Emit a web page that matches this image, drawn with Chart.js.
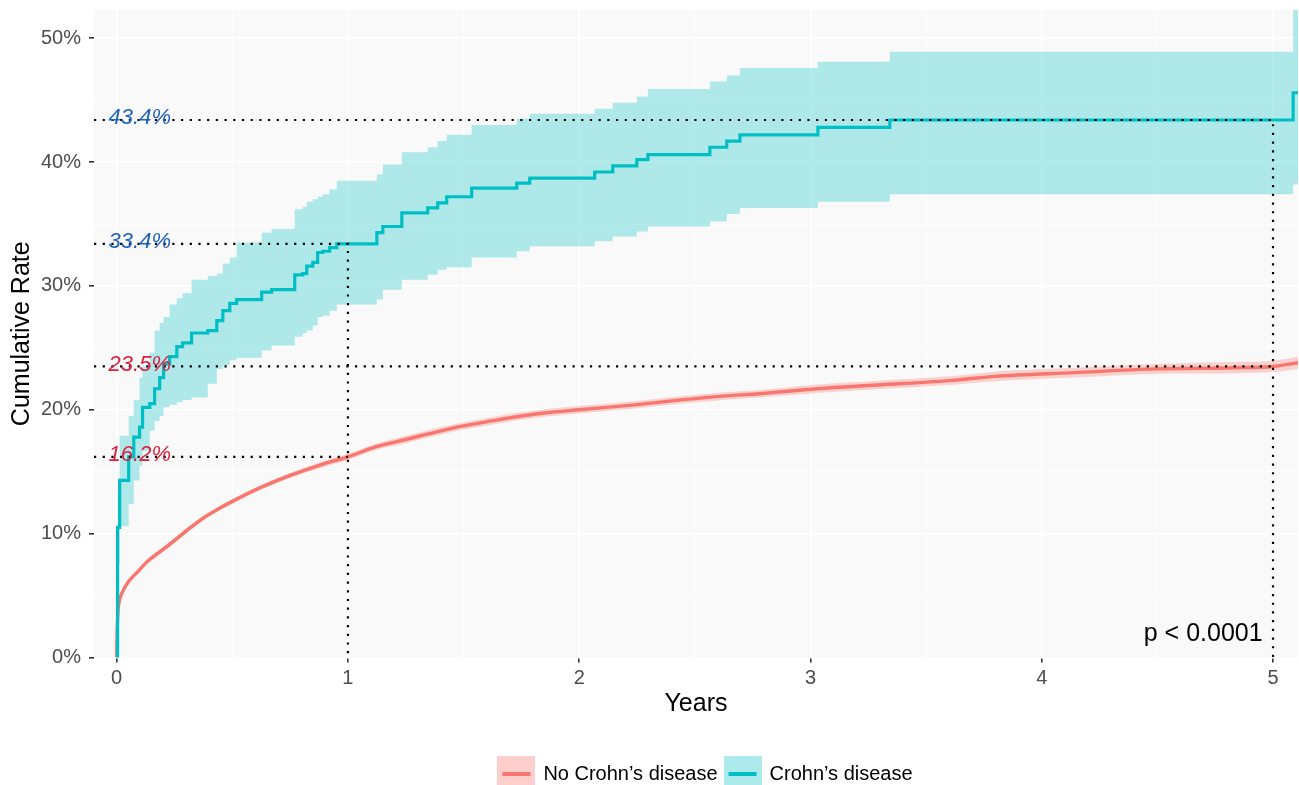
<!DOCTYPE html>
<html><head><meta charset="utf-8">
<script src="https://cdn.jsdelivr.net/npm/chart.js@4.4.1/dist/chart.umd.min.js"></script>
<style>html,body{margin:0;padding:0;background:#fff;overflow:hidden}</style>
</head><body>
<canvas id="c" width="1299" height="785"></canvas>
<script>
// ---------- data ----------
const seriesNames = ['No Crohn\u2019s disease', 'Crohn\u2019s disease'];
const xTickValues = [0, 1, 2, 3, 4, 5];
const xMinorValues = [0.5, 1.5, 2.5, 3.5, 4.5];
const yTickValues = [0, 10, 20, 30, 40, 50];
const yMinorValues = [5, 15, 25, 35, 45];

// Crohn's disease (step curve, cumulative %)
const cdTime  = [0, 0.004, 0.013, 0.052, 0.074, 0.099, 0.112, 0.143, 0.164, 0.186, 0.203, 0.229, 0.260, 0.285, 0.324, 0.394, 0.433, 0.459, 0.489, 0.519, 0.627, 0.670, 0.770, 0.804, 0.822, 0.848, 0.869, 0.891, 0.921, 0.952, 1.125, 1.151, 1.233, 1.345, 1.388, 1.427, 1.535, 1.730, 1.786, 2.067, 2.145, 2.249, 2.297, 2.565, 2.638, 2.695, 3.032, 3.343, 5.087, 5.108];
const cdEst   = [0, 10.5, 14.3, 16.2, 17.8, 18.6, 20.2, 20.5, 21.7, 22.6, 23.7, 24.3, 25.1, 25.4, 26.2, 26.4, 27.2, 28.0, 28.6, 28.9, 29.5, 29.7, 30.9, 31.0, 31.6, 31.9, 32.7, 32.8, 33.1, 33.4, 34.3, 34.8, 35.9, 36.3, 36.7, 37.2, 37.9, 38.3, 38.7, 39.2, 39.7, 40.2, 40.6, 41.2, 41.7, 42.2, 42.8, 43.4, 45.6, 45.6];
const cdLower = [0, 7.5, 10.6, 12.4, 14.3, 15.5, 16.7, 18.3, 19.1, 19.5, 20.2, 20.4, 20.6, 20.8, 21.0, 22.1, 23.3, 23.6, 24.0, 24.2, 24.8, 25.2, 25.9, 26.2, 26.4, 26.8, 27.5, 27.6, 28.0, 28.5, 28.9, 29.7, 30.5, 30.9, 31.3, 31.5, 32.3, 32.8, 33.2, 33.6, 34.0, 34.4, 34.8, 35.2, 35.8, 36.3, 36.8, 37.4, 38.2, 38.2];
const cdUpper = [0, 13.5, 17.9, 19.5, 20.8, 22.6, 23.5, 24.6, 26.4, 27.0, 27.5, 28.5, 29.0, 29.4, 30.5, 30.8, 31.0, 31.8, 32.3, 33.5, 34.3, 34.6, 36.2, 36.4, 36.8, 37.0, 37.2, 37.4, 37.8, 38.5, 39.0, 39.8, 40.8, 41.2, 41.7, 42.2, 43.0, 43.5, 43.9, 44.3, 44.8, 45.3, 45.9, 46.5, 47.0, 47.6, 48.1, 48.9, 56.0, 56.0];

// No Crohn's disease (dense curve, cumulative %)
const noCdTime  = [0, 0.002, 0.006, 0.012, 0.025, 0.05, 0.09, 0.13, 0.17, 0.22, 0.26, 0.32, 0.37, 0.44, 0.51, 0.62, 0.75, 0.89, 1.0, 1.12, 1.25, 1.38, 1.5, 1.62, 1.75, 1.88, 2.0, 2.24, 2.44, 2.62, 2.78, 3.03, 3.29, 3.63, 3.80, 4.14, 4.49, 4.83, 5.0, 5.108];
const noCdEst   = [0, 2.2, 3.8, 4.6, 5.3, 6.1, 6.9, 7.7, 8.3, 9.0, 9.6, 10.5, 11.2, 12.0, 12.7, 13.7, 14.7, 15.6, 16.2, 17.0, 17.6, 18.2, 18.7, 19.1, 19.5, 19.8, 20.0, 20.4, 20.8, 21.1, 21.3, 21.7, 22.0, 22.4, 22.7, 23.0, 23.3, 23.4, 23.5, 23.8];
const noCdLower = [0, 2.1, 3.6, 4.4, 5.1, 5.9, 6.7, 7.5, 8.1, 8.8, 9.4, 10.3, 11.0, 11.8, 12.5, 13.5, 14.5, 15.35, 15.95, 16.75, 17.3, 17.9, 18.4, 18.8, 19.2, 19.5, 19.7, 20.1, 20.5, 20.8, 21.0, 21.35, 21.65, 22.05, 22.3, 22.6, 22.9, 22.95, 23.05, 23.3];
const noCdUpper = [0, 2.3, 4.0, 4.8, 5.5, 6.3, 7.1, 7.9, 8.5, 9.2, 9.8, 10.7, 11.4, 12.2, 12.9, 13.9, 14.9, 15.85, 16.45, 17.25, 17.9, 18.5, 19.0, 19.4, 19.8, 20.1, 20.3, 20.7, 21.1, 21.4, 21.6, 22.05, 22.35, 22.75, 23.1, 23.4, 23.7, 23.85, 23.95, 24.3];

// reference read-offs
const refTimes = [1, 5];
const refCdValues = [33.4, 43.4];
const refNoCdValues = [16.2, 23.5];
const pValueText = 'p < 0.0001';

// ---------- styling ----------
const X_MIN = -0.098, X_MAX = 5.108, Y_MIN = 0, Y_MAX = 52.28;
const TEAL = '#00BFC4', RED = '#F8766D';
const TEAL_BAND = 'rgba(0,191,196,0.30)', RED_BAND = 'rgba(248,118,109,0.30)';
const BLUE_TXT = '#1F63BC', RED_TXT = '#DE1E3E';
const FONT = '"Liberation Sans", Arial, Helvetica, sans-serif';

const pts = (xs, ys) => xs.map((v, i) => ({x: v, y: ys[i]}));

function keyCanvas(lineColor, bandColor) {
  const c = document.createElement('canvas');
  c.width = 38; c.height = 36;
  const g = c.getContext('2d');
  g.fillStyle = '#ffffff'; g.fillRect(0, 0, 38, 36);
  g.fillStyle = bandColor; g.fillRect(0, 0, 38, 36);
  g.strokeStyle = lineColor; g.lineWidth = 4;
  g.beginPath(); g.moveTo(5, 18); g.lineTo(33, 18); g.stroke();
  return c;
}

const datasets = [];
refTimes.forEach((t, i) => {
  datasets.push({label: 'refcd' + i, data: [{x: X_MIN, y: refCdValues[i]}, {x: t, y: refCdValues[i]}, {x: t, y: 0}],
    borderColor: '#000', borderWidth: 2.2, borderDash: [2.2, 6.5], pointRadius: 0, fill: false, order: 0, tension: 0});
  datasets.push({label: 'refno' + i, data: [{x: X_MIN, y: refNoCdValues[i]}, {x: t, y: refNoCdValues[i]}],
    borderColor: '#000', borderWidth: 2.2, borderDash: [2.2, 6.5], pointRadius: 0, fill: false, order: 0, tension: 0});
});
datasets.push({label: seriesNames[1], data: pts(cdTime, cdEst), borderColor: TEAL, borderWidth: 3.2, stepped: 'before', pointRadius: 0, fill: false, order: 1});
datasets.push({label: seriesNames[0], data: pts(noCdTime, noCdEst), borderColor: RED, borderWidth: 3.4, cubicInterpolationMode: 'monotone', pointRadius: 0, fill: false, order: 1});
const cdUpIdx = datasets.length;
datasets.push({label: 'cdUpper', data: pts(cdTime, cdUpper), borderWidth: 0, borderColor: 'rgba(0,0,0,0)', stepped: 'before', pointRadius: 0, fill: cdUpIdx + 1, backgroundColor: TEAL_BAND, order: 2});
datasets.push({label: 'cdLower', data: pts(cdTime, cdLower), borderWidth: 0, borderColor: 'rgba(0,0,0,0)', stepped: 'before', pointRadius: 0, fill: false, order: 2});
const noUpIdx = datasets.length;
datasets.push({label: 'noUpper', data: pts(noCdTime, noCdUpper), borderWidth: 0, borderColor: 'rgba(0,0,0,0)', cubicInterpolationMode: 'monotone', pointRadius: 0, fill: noUpIdx + 1, backgroundColor: RED_BAND, order: 2});
datasets.push({label: 'noLower', data: pts(noCdTime, noCdLower), borderWidth: 0, borderColor: 'rgba(0,0,0,0)', cubicInterpolationMode: 'monotone', pointRadius: 0, fill: false, order: 2});

const panelBg = {
  id: 'panelBg',
  afterLayout(chart) {
    if (chart.legend) { chart.legend.left += 10; chart.legend.right += 10; }
  },
  beforeDraw(chart) {
    const {ctx, chartArea: a} = chart;
    ctx.save(); ctx.fillStyle = '#F9F9F9';
    ctx.fillRect(a.left, a.top, a.right - a.left, a.bottom - a.top);
    ctx.restore();
  }
};
const annotations = {
  id: 'annotations',
  afterDatasetsDraw(chart) {
    const {ctx, scales: {x, y}} = chart;
    ctx.save();
    ctx.font = 'italic 22px ' + FONT;
    ctx.textAlign = 'center'; ctx.textBaseline = 'middle';
    const lx = x.getPixelForValue(0.1);
    refCdValues.forEach(v => { ctx.fillStyle = BLUE_TXT; ctx.fillText(v.toFixed(1) + '%', lx, y.getPixelForValue(v) - 2); });
    refNoCdValues.forEach(v => { ctx.fillStyle = RED_TXT; ctx.fillText(v.toFixed(1) + '%', lx, y.getPixelForValue(v) - 2); });
    ctx.font = '25px ' + FONT; ctx.fillStyle = '#000'; ctx.textAlign = 'right';
    ctx.fillText(pValueText, x.getPixelForValue(4.955), y.getPixelForValue(1.9));
    ctx.restore();
  }
};

const isMajorX = v => xTickValues.includes(v);
const isMajorY = v => yTickValues.includes(v);

new Chart(document.getElementById('c'), {
  type: 'line',
  data: {datasets},
  plugins: [panelBg, annotations],
  options: {
    responsive: false, animation: false, devicePixelRatio: 1,
    layout: {padding: {top: 10, right: 1, left: 0, bottom: -9}},
    plugins: {
      tooltip: {enabled: false},
      legend: {
        position: 'bottom', fullSize: false,
        labels: {
          usePointStyle: true, pointStyleWidth: 34, padding: 8,
          color: '#000', font: {family: FONT, size: 20},
          generateLabels: () => [
            {text: seriesNames[0], pointStyle: keyCanvas(RED, 'rgba(248,118,109,0.35)'), fillStyle: 'rgba(0,0,0,0)', strokeStyle: 'rgba(0,0,0,0)', lineWidth: 0, hidden: false, fontColor: '#000'},
            {text: seriesNames[1], pointStyle: keyCanvas(TEAL, 'rgba(0,191,196,0.32)'), fillStyle: 'rgba(0,0,0,0)', strokeStyle: 'rgba(0,0,0,0)', lineWidth: 0, hidden: false, fontColor: '#000'}
          ]
        },
        onClick: () => {}
      }
    },
    scales: {
      x: {
        type: 'linear', min: X_MIN, max: X_MAX,
        afterBuildTicks: s => { s.ticks = xTickValues.concat(xMinorValues).sort((a, b) => a - b).map(v => ({value: v})); },
        afterFit: s => { s.height = 98.5; s.paddingLeft = 0; s.paddingRight = 0; },
        ticks: {autoSkip: false, maxRotation: 0, color: '#4D4D4D', font: {family: FONT, size: 20}, padding: 4,
          callback: v => isMajorX(v) ? String(v) : ''},
        grid: {color: '#FFFFFF', lineWidth: c => isMajorX(c.tick.value) ? 1.6 : 0.8, drawTicks: true, tickLength: 5,
          tickColor: c => isMajorX(c.tick.value) ? '#333333' : 'rgba(0,0,0,0)', tickWidth: 1.6},
        border: {display: false},
        title: {display: true, text: 'Years', color: '#000', font: {family: FONT, size: 25}, padding: {top: 0, bottom: 37}}
      },
      y: {
        type: 'linear', min: Y_MIN, max: Y_MAX,
        afterBuildTicks: s => { s.ticks = yTickValues.concat(yMinorValues).sort((a, b) => a - b).map(v => ({value: v})); },
        afterFit: s => { s.width = 94; s.paddingTop = 0; s.paddingBottom = 0; },
        ticks: {autoSkip: false, color: '#4D4D4D', font: {family: FONT, size: 20}, padding: 8,
          callback: v => isMajorY(v) ? v + '%' : ''},
        grid: {color: '#FFFFFF', lineWidth: c => isMajorY(c.tick.value) ? 1.6 : 0.8, drawTicks: true, tickLength: 5,
          tickColor: c => isMajorY(c.tick.value) ? '#333333' : 'rgba(0,0,0,0)', tickWidth: 1.6},
        border: {display: false},
        title: {display: true, text: 'Cumulative Rate', color: '#000', font: {family: FONT, size: 25}, padding: {top: 7, bottom: 0}}
      }
    }
  }
});
</script>
</body></html>
